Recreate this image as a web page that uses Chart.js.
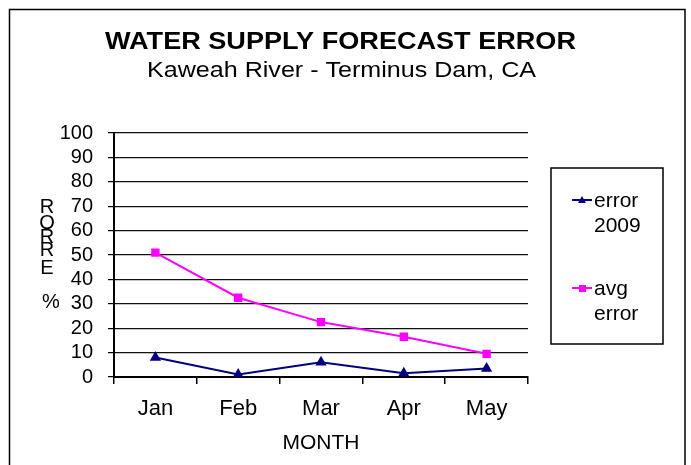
<!DOCTYPE html>
<html>
<head>
<meta charset="utf-8">
<script src="https://cdn.jsdelivr.net/npm/chart.js@4"></script>
<style>
  html, body { margin: 0; padding: 0; background: #fff; }
  #wrap { width: 691px; height: 465px; }
</style>
</head>
<body>
<div id="wrap"><canvas id="forecastChart" width="691" height="465"></canvas></div>
<script>
(() => {
  const months = ["Jan", "Feb", "Mar", "Apr", "May"];
  const error2009 = [8, 1, 6, 1.5, 3.5];
  const avgError = [51, 32.5, 22.5, 16.5, 9.5];
  const seriesNames = ["error 2009", "avg error"];
  const yTicks = [0, 10, 20, 30, 40, 50, 60, 70, 80, 90, 100];

  const FONT = "'Liberation Sans', Arial, sans-serif";

  // frame, titles, stacked y title and the boxed legend
  const decor = {
    id: "decor",
    beforeDraw(chart) {
      const c = chart.ctx;
      c.save();
      c.fillStyle = "#fff";
      c.fillRect(0, 0, chart.width, chart.height);
      c.strokeStyle = "#000";
      c.lineWidth = 1.5;
      c.strokeRect(9.5, 9.5, 675.5, 470);
      c.restore();
    },
    afterDraw(chart) {
      const c = chart.ctx;
      c.save();
      c.fillStyle = "#000";
      c.textAlign = "center";
      c.textBaseline = "middle";

      // Excel spreads the title text out a bit wider than the font does
      const stretch = (txt, font, cx, cy, w) => {
        c.font = font;
        const m = c.measureText(txt).width;
        c.save();
        c.translate(cx, cy);
        c.scale(w / m, 1);
        c.fillText(txt, 0, 0);
        c.restore();
      };
      stretch("WATER SUPPLY FORECAST ERROR", "bold 24px " + FONT, 340.5, 42, 471);
      stretch("Kaweah River - Terminus Dam, CA", "22px " + FONT, 341.5, 71, 389);

      // y title: letters stacked, drawn bottom-up
      c.font = "20px " + FONT;
      [["R", 47, 207], ["O", 47, 223], ["R", 47, 237], ["R", 47, 250], ["E", 47, 268], ["%", 51, 302]]
        .forEach(([ch, x, y]) => c.fillText(ch, x, y));

      // legend
      c.strokeStyle = "#000";
      c.lineWidth = 1.5;
      c.strokeRect(551, 168, 112, 176);
      c.textAlign = "left";
      c.font = "21px " + FONT;
      const rows = [200, 288];
      chart.data.datasets.forEach((ds, i) => {
        const y = rows[i];
        c.strokeStyle = ds.borderColor;
        c.lineWidth = 2;
        c.beginPath();
        c.moveTo(572, y);
        c.lineTo(592, y);
        c.stroke();
        c.fillStyle = ds.backgroundColor;
        if (ds.pointStyle === "triangle") {
          c.beginPath();
          c.moveTo(582, y - 4);
          c.lineTo(586, y + 3);
          c.lineTo(578, y + 3);
          c.closePath();
          c.fill();
        } else {
          c.fillRect(579, y - 3, 7, 7);
        }
        c.fillStyle = "#000";
        const parts = ds.label.split(" ");
        c.fillText(parts[0], 594, y + 1);
        c.fillText(parts[1], 594, y + 26);
      });
      c.restore();
    }
  };

  new Chart(document.getElementById("forecastChart"), {
    type: "line",
    data: {
      labels: months,
      datasets: [
        {
          label: seriesNames[0], data: error2009,
          borderColor: "#000080", backgroundColor: "#000080",
          borderWidth: 2, pointStyle: "triangle", pointRadius: 4.5, tension: 0
        },
        {
          label: seriesNames[1], data: avgError,
          borderColor: "#FF00FF", backgroundColor: "#FF00FF",
          borderWidth: 2, pointStyle: "rect", pointRadius: 4.5, tension: 0
        }
      ]
    },
    options: {
      responsive: false,
      animation: false,
      devicePixelRatio: 1,
      layout: { padding: { left: 54, right: 163, top: 133, bottom: 8 } },
      plugins: { legend: { display: false }, tooltip: { enabled: false } },
      scales: {
        x: {
          offset: true,
          afterFit: s => { s.height = 80; },
          grid: {
            offset: true,
            drawOnChartArea: true,
            color: ctx => ctx.index === months.length ? "#000" : "rgba(0,0,0,0)",
            lineWidth: 1.5,
            tickColor: "#000",
            tickLength: 7
          },
          border: { display: true, color: "#000", width: 2 },
          ticks: { color: "#000", font: { family: FONT, size: 22 }, padding: 12, maxRotation: 0 },
          title: { display: true, text: "MONTH", color: "#000", font: { family: FONT, size: 21 }, padding: { top: 2, bottom: 1 } }
        },
        y: {
          min: 0, max: 100,
          afterFit: s => { s.width = 60; },
          afterBuildTicks: s => { s.ticks = yTicks.map(v => ({ value: v })); },
          grid: { color: "#111", lineWidth: 1.2, tickColor: "#000", tickLength: 6 },
          border: { display: true, color: "#000", width: 2 },
          ticks: { color: "#000", font: { family: FONT, size: 20 }, padding: 15, autoSkip: false }
        }
      }
    },
    plugins: [decor]
  });
})();
</script>
</body>
</html>
